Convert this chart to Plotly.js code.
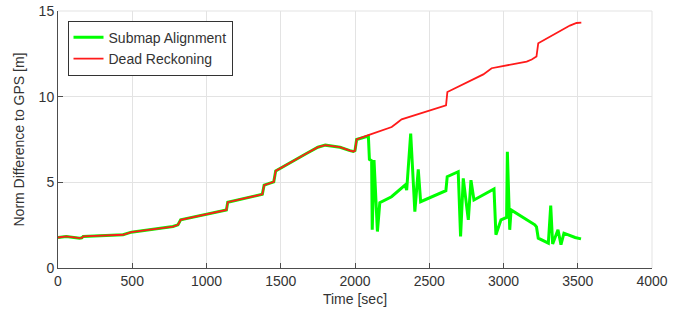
<!DOCTYPE html>
<html>
<head>
<meta charset="utf-8">
<script src="https://cdn.plot.ly/plotly-3.0.1.min.js"></script>
<style>html,body{margin:0;padding:0;background:#fff}#chart{width:694px;height:320px}</style>
</head>
<body>
<div id="chart"></div>
<script>
// Dead Reckoning series
var timeDR = [0, 56, 146, 160, 170, 438, 494, 774, 808, 826, 1134, 1143, 1376, 1388, 1453, 1466, 1673, 1750, 1800, 1850, 1899, 1966, 1989, 2000, 2011, 2090,
  2247, 2280, 2314, 2613, 2622, 2864, 2920, 3156, 3190, 3222, 3234, 3447, 3492, 3524];
var normDR = [1.78, 1.84, 1.74, 1.76, 1.84, 1.94, 2.09, 2.42, 2.52, 2.81, 3.39, 3.84, 4.30, 4.84, 5.03, 5.67, 6.68, 7.05, 7.17, 7.12, 7.05, 6.85, 6.80, 6.85, 7.50, 7.75,
  8.23, 8.45, 8.68, 9.49, 10.27, 11.30, 11.66, 12.05, 12.17, 12.34, 13.12, 14.15, 14.30, 14.32];

// Submap Alignment series
var timeSA = [0, 56, 146, 160, 170, 438, 494, 774, 808, 826, 1134, 1143, 1376, 1388, 1453, 1466, 1673, 1750, 1800, 1850, 1899, 1966, 1989, 2000, 2011, 2090,
  2097, 2112, 2116, 2128, 2151, 2167, 2246, 2337, 2348, 2375, 2403, 2426, 2442, 2612, 2621, 2695, 2711, 2729, 2763, 2781, 2801, 2936, 2949, 2983, 3010, 3021, 3026, 3042, 3051,
  3177, 3211, 3222, 3234, 3302, 3318, 3331, 3367, 3387, 3407, 3482, 3522];
var normSA = [1.78, 1.84, 1.74, 1.76, 1.84, 1.94, 2.09, 2.42, 2.52, 2.81, 3.39, 3.84, 4.30, 4.84, 5.03, 5.67, 6.68, 7.05, 7.17, 7.12, 7.05, 6.85, 6.80, 6.85, 7.50, 7.70,
  6.34, 6.26, 2.23, 6.30, 2.13, 3.81, 4.16, 4.84, 4.55, 7.85, 3.29, 5.76, 3.87, 4.51, 5.33, 5.62, 1.84, 5.23, 2.81, 5.13, 3.97, 4.61, 1.94, 2.81, 2.91, 2.95, 6.78, 2.23, 3.39,
  2.71, 2.52, 2.40, 1.74, 1.45, 3.64, 1.40, 2.23, 1.36, 2.03, 1.78, 1.70];

var seriesNames = ["Submap Alignment", "Dead Reckoning"];
var xTicks = [0, 500, 1000, 1500, 2000, 2500, 3000, 3500, 4000];
var yTicks = [0, 5, 10, 15];

var font = {family: "Liberation Sans, Arial, sans-serif", size: 14, color: "#333333"};

var traces = [
  {x: timeSA, y: normSA, name: seriesNames[0], type: "scatter", mode: "lines",
   line: {color: "#00ff00", width: 3}},
  {x: timeDR, y: normDR, name: seriesNames[1], type: "scatter", mode: "lines",
   line: {color: "#ff1a1a", width: 1.8}}
];

var axisCommon = {
  showgrid: true, gridcolor: "#e3e3e3", gridwidth: 1,
  showline: true, linecolor: "#4d4d4d", linewidth: 1,
  ticks: "inside", ticklen: 5, tickcolor: "#4d4d4d",
  zeroline: false, tickfont: font
};

var layout = {
  width: 694, height: 320,
  margin: {l: 58, r: 42, t: 11, b: 52},
  paper_bgcolor: "#fff", plot_bgcolor: "#fff",
  font: font,
  showlegend: true,
  legend: {x: 0.016, y: 0.962, xanchor: "left", yanchor: "top",
    bgcolor: "#fff", bordercolor: "#333", borderwidth: 1,
    font: font, tracegroupgap: 0, entrywidth: 140, entrywidthmode: "pixels"},
  xaxis: Object.assign({}, axisCommon, {
    range: [0, 4000], tickvals: xTicks, ticktext: xTicks.map(String),
    title: {text: "Time [sec]", font: font, standoff: 6}
  }),
  yaxis: Object.assign({}, axisCommon, {
    range: [0, 15], tickvals: yTicks, ticktext: yTicks.map(String),
    title: {text: "Norm Difference to GPS [m]", font: font, standoff: 10}
  }),
  shapes: [
    {type: "line", xref: "paper", yref: "paper", x0: 0, x1: 1, y0: 1, y1: 1, line: {color: "#e3e3e3", width: 1}},
    {type: "line", xref: "paper", yref: "paper", x0: 1, x1: 1, y0: 0, y1: 1, line: {color: "#e3e3e3", width: 1}}
  ]
};

Plotly.newPlot("chart", traces, layout, {displayModeBar: false, staticPlot: true});
</script>
</body>
</html>
